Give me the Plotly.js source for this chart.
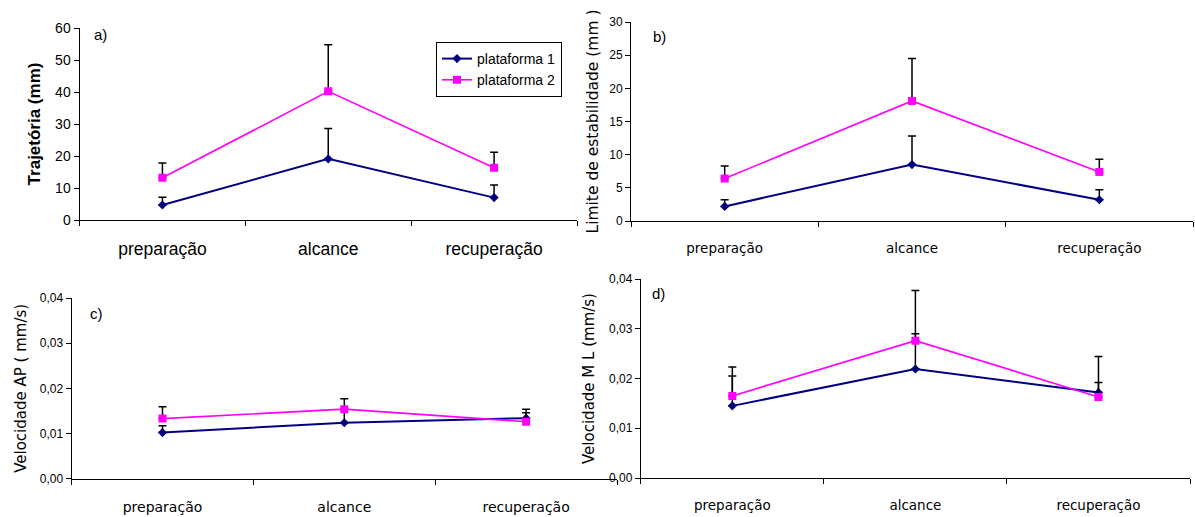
<!DOCTYPE html>
<html>
<head>
<meta charset="utf-8">
<script src="https://cdn.plot.ly/plotly-3.0.1.min.js"></script>
<style>html,body{margin:0;padding:0;background:#fff;}#chart{width:1195px;height:517px;}</style>
</head>
<body>
<div id="chart"></div>
<script>
// ---- data ----
const categories = ['preparação', 'alcance', 'recuperação'];
const seriesNames = ['plataforma 1', 'plataforma 2'];

const trajP1 = [4.7, 19.1, 7.0];
const trajP1Err = [2.4, 9.5, 3.9];
const trajP2 = [13.2, 40.2, 16.3];
const trajP2Err = [4.6, 14.6, 4.9];

const limP1 = [2.2, 8.5, 3.2];
const limP1Err = [1.0, 4.3, 1.5];
const limP2 = [6.4, 18.1, 7.4];
const limP2Err = [1.9, 6.4, 1.9];

const velAPP1 = [0.0102, 0.0124, 0.0134];
const velAPP1Err = [0.0015, 0.0030, 0.0020];
const velAPP2 = [0.0133, 0.0154, 0.0126];
const velAPP2Err = [0.0026, 0.0023, 0.0020];

const velMLP1 = [0.0145, 0.0219, 0.0172];
const velMLP1Err = [0.0060, 0.0071, 0.0020];
const velMLP2 = [0.0165, 0.0276, 0.0163];
const velMLP2Err = [0.0058, 0.0101, 0.0081];

const yTitles = ['Trajetória (mm)', 'Limite de estabilidade (mm )', 'Velocidade AP ( mm/s)', 'Velocidade M L (mm/s)'];
const panelLabels = ['a)', 'b)', 'c)', 'd)'];

// ---- styling ----
const C1 = '#000080', C2 = '#ff00ff';
const F = 'Liberation Sans, Arial, sans-serif';
const FD = 'DejaVu Sans, Liberation Sans, sans-serif';

function mk(y, err, i, ax, show) {
  const p1 = i === 0;
  return {
    type: 'scatter', mode: 'lines+markers',
    x: categories, y: y,
    name: seriesNames[i], showlegend: show, legendgroup: seriesNames[i],
    xaxis: 'x' + ax, yaxis: 'y' + ax,
    line: {color: p1 ? C1 : C2, width: p1 ? 2 : 1.6},
    marker: {color: p1 ? C1 : C2, symbol: p1 ? 'diamond' : 'square', size: p1 ? 7 : 8},
    error_y: {type: 'data', symmetric: false, array: err, arrayminus: err.map(() => 0),
              color: '#000', thickness: 1.5, width: 4}
  };
}

const data = [
  mk(trajP1, trajP1Err, 0, '', true), mk(trajP2, trajP2Err, 1, '', true),
  mk(limP1, limP1Err, 0, '2', false), mk(limP2, limP2Err, 1, '2', false),
  mk(velAPP1, velAPP1Err, 0, '3', false), mk(velAPP2, velAPP2Err, 1, '3', false),
  mk(velMLP1, velMLP1Err, 0, '4', false), mk(velMLP2, velMLP2Err, 1, '4', false)
];

function xa(dom, anchor, fsize, fam, so) {
  return {domain: dom, anchor: anchor, type: 'category', range: [-0.5, 2.5],
    tickson: 'boundaries', ticks: 'outside', ticklen: 5, tickcolor: '#000', tickwidth: 1,
    showline: true, linecolor: '#000', linewidth: 1, showgrid: false, zeroline: false,
    ticklabelstandoff: so, tickfont: {family: fam, size: fsize, color: '#000'}};
}
function ya(dom, anchor, range, dtick, fmt, title, tfont, fsize, fam, standoff) {
  return {domain: dom, anchor: anchor, range: range, dtick: dtick, tickformat: fmt,
    ticks: 'outside', ticklen: 5, tickcolor: '#000', tickwidth: 1,
    showline: true, linecolor: '#000', linewidth: 1, showgrid: false, zeroline: false,
    tickfont: {family: fam, size: fsize, color: '#000'},
    title: {text: title, font: tfont, standoff: standoff}};
}

const W = 1195, H = 517;
const dx = (a, b) => [a / W, b / W];
const dy = (top, bot) => [1 - bot / H, 1 - top / H];

const layout = {
  width: W, height: H, margin: {l: 0, r: 0, t: 0, b: 0},
  paper_bgcolor: '#fff', plot_bgcolor: '#fff', separators: ',.',
  font: {family: F, color: '#000'},
  xaxis: xa(dx(79.5, 577), 'y', 17.5, F, 13),
  yaxis: ya(dy(28, 220), 'x', [0, 60], 10, '', yTitles[0], {family: F, size: 17, weight: 'bold', color: '#000'}, 14, F, 10),
  xaxis2: xa(dx(631, 1193), 'y2', 13.5, FD, 15),
  yaxis2: ya(dy(22, 221), 'x2', [0, 30], 5, '', yTitles[1], {family: FD, size: 15.5, color: '#000'}, 12, F, 6),
  xaxis3: xa(dx(71.6, 617), 'y3', 14, FD, 15),
  yaxis3: ya(dy(298, 478.7), 'x3', [0, 0.04], 0.01, '.2f', yTitles[2], {family: FD, size: 15, color: '#000'}, 12, F, 9),
  xaxis4: xa(dx(640.8, 1190), 'y4', 13.5, FD, 15),
  yaxis4: ya(dy(279, 478), 'x4', [0, 0.04], 0.01, '.2f', yTitles[3], {family: FD, size: 15, color: '#000'}, 12, F, 10),
  legend: {x: 436 / W, y: 1 - 42 / H, xanchor: 'left', yanchor: 'top',
    bgcolor: '#fff', bordercolor: '#000', borderwidth: 1,
    font: {family: F, size: 14, color: '#000'}, itemwidth: 30, tracegroupgap: 0},
  showlegend: true,
  annotations: [
    {text: panelLabels[0], xref: 'paper', yref: 'paper', x: 92 / W, y: 1 - 35 / H, xanchor: 'left', yanchor: 'middle', showarrow: false, font: {family: F, size: 15}},
    {text: panelLabels[1], xref: 'paper', yref: 'paper', x: 651 / W, y: 1 - 36 / H, xanchor: 'left', yanchor: 'middle', showarrow: false, font: {family: F, size: 15}},
    {text: panelLabels[2], xref: 'paper', yref: 'paper', x: 88 / W, y: 1 - 313 / H, xanchor: 'left', yanchor: 'middle', showarrow: false, font: {family: F, size: 15}},
    {text: panelLabels[3], xref: 'paper', yref: 'paper', x: 650 / W, y: 1 - 293 / H, xanchor: 'left', yanchor: 'middle', showarrow: false, font: {family: F, size: 15}}
  ]
};

Plotly.newPlot('chart', data, layout, {displayModeBar: false, staticPlot: true});
</script>
</body>
</html>
